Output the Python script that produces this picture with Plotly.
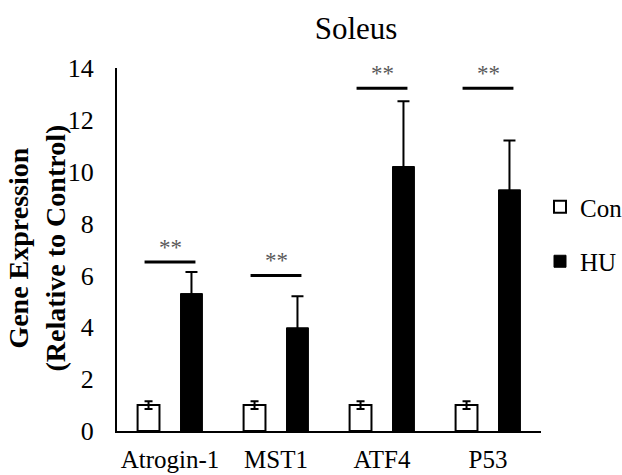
import plotly.graph_objects as go

categories = ["Atrogin-1", "MST1", "ATF4", "P53"]
con_values = [1.0, 1.0, 1.0, 1.0]
con_err = [0.15, 0.15, 0.15, 0.15]
hu_values = [5.3, 3.98, 10.2, 9.3]
hu_err = [0.83, 1.22, 2.52, 1.9]
sig_heights = [6.52, 6.0, 13.22, 13.22]
sig_labels = ["**", "**", "**", "**"]
y_ticks = [0, 2, 4, 6, 8, 10, 12, 14]

FONT = "Liberation Serif, Times New Roman, serif"

fig = go.Figure()
fig.add_trace(go.Bar(
    x=categories, y=con_values, name="Con", legendgroup="con",
    marker=dict(color="white", line=dict(color="black", width=2)),
    error_y=dict(type="data", array=con_err, color="black", thickness=2, width=4),
))
fig.add_trace(go.Bar(
    x=categories, y=hu_values, name="HU", legendgroup="hu",
    marker=dict(color="black", line=dict(color="black", width=1)),
    error_y=dict(type="data", array=hu_err, color="black", thickness=2, width=6),
))

for i, (h, lab) in enumerate(zip(sig_heights, sig_labels)):
    fig.add_shape(type="line", xref="x", yref="y", x0=i - 0.24, x1=i + 0.24,
                  y0=h, y1=h, line=dict(color="black", width=3))
    fig.add_annotation(x=i, y=h, xref="x", yref="y", text=lab, showarrow=False,
                       yanchor="bottom", yshift=0,
                       font=dict(family=FONT, size=23, color="#595959"))

fig.add_annotation(text="<b>Gene Expression<br>(Relative to Control)</b>",
                   xref="paper", yref="paper", x=-0.19, y=0.504,
                   xanchor="center", yanchor="middle", textangle=-90,
                   showarrow=False, font=dict(family=FONT, size=28, color="black"))

fig.update_layout(
    width=622, height=475,
    margin=dict(l=117, r=81, t=68, b=44, autoexpand=False),
    paper_bgcolor="white", plot_bgcolor="white",
    barmode="group", bargap=0.19, bargroupgap=0.49,
    font=dict(family=FONT, size=26, color="black"),
    title=dict(text="Soleus", x=356 / 622, xanchor="center", y=1 - 28 / 475,
               yanchor="middle", font=dict(family=FONT, size=31, color="black")),
    showlegend=True,
    legend=dict(xref="container", yref="container", x=540 / 622, xanchor="left",
                y=1 - 184 / 475, yanchor="top",
                tracegroupgap=19, font=dict(family=FONT, size=25),
                bgcolor="rgba(0,0,0,0)"),
)
fig.update_xaxes(showline=True, linecolor="black", linewidth=2, ticks="",
                 showgrid=False, automargin=False, ticklabelstandoff=5,
                 tickfont=dict(family=FONT, size=25))
fig.update_yaxes(range=[0, 14], tickvals=y_ticks, showline=True, linecolor="black",
                 linewidth=2, ticks="", showgrid=False, zeroline=False,
                 automargin=False, ticklabelstandoff=16,
                 tickfont=dict(family=FONT, size=26))

fig.write_html("out.html", config={"displayModeBar": False},
               post_script="document.body.style.margin='0';")
